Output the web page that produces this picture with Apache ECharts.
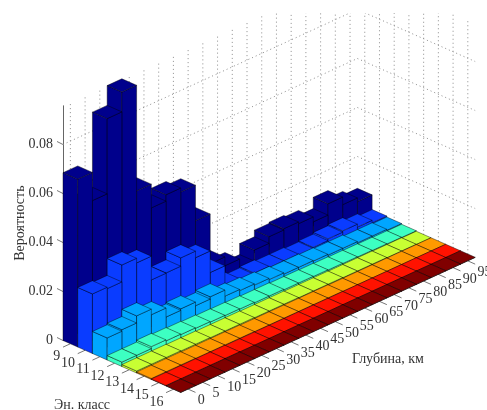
<!DOCTYPE html>
<html>
<head>
<meta charset="utf-8">
<script src="https://cdn.jsdelivr.net/npm/echarts@6/dist/echarts.min.js"></script>
<style>
html,body{margin:0;padding:0;background:#fff;overflow:hidden}
#c{width:487px;height:410px;filter:blur(0.7px)}
</style>
</head>
<body>
<div id="c"></div>
<script>
const energyLabels = ['9','10','11','12','13','14','15','16'];
const depthLabels = ['0','5','10','15','20','25','30','35','40','45','50','55','60','65','70','75','80','85','90','95'];
const yTicks = [0, 0.02, 0.04, 0.06, 0.08];
const prob9  = [.0685,.057,.0877,.0958,.0527,.043,.0456,.044,.0295,.0092,.0056,.002,.0065,.0092,.0097,.009,.007,.0116,.0085,.007];
const prob10 = [.0243,.0237,.0306,.0287,.019,.0191,.0225,.0198,.011,.003,.002,.0025,.002,.002,.0016,.002,.0027,.0032,.002,.001];
const prob11 = [.009,.0096,.0125,.0102,.0065,.0071,.0056,.0065,.004,.0035,.003,.0025,.002,.002,.0018,.0015,.0015,.001,.001,.0006];
const prob12 = [.0018,.0018,.0026,.0022,.002,.0018,.0016,.0015,.0014,.0012,.0012,.001,.001,.0009,.0008,.0007,.0006,.0005,.0004,.0003];
const prob13 = [.0008,.0008,.0008,.0007,.0007,.0006,.0006,.0006,.0005,.0005,.0005,.0004,.0004,.0004,.0003,.0003,.0003,.0002,.0002,.0001];
const prob14 = [.0004,.0004,.0004,.0003,.0003,.0003,.0003,.0002,.0002,.0002,.0002,.0002,.0002,.0001,.0001,.0001,.0001,.0001,.0001,.0001];
const prob15 = [.0002,.0002,.0002,.0002,.0002,.0001,.0001,.0001,.0001,.0001,.0001,.0001,.0001,.0001,.0001,.0001,.0001,.0001,.0001,.0001];
const prob16 = [.0001,.0001,.0001,.0001,.0001,.0001,.0001,.0001,.0001,.0001,.0001,.0001,.0001,.0001,.0001,.0001,.0001,.0001,.0001,.0001];
const rows = [prob9, prob10, prob11, prob12, prob13, prob14, prob15, prob16];

const rowColors = ['#00008c','#0a3cff','#00a6ff','#3dffc2','#c8ff33','#ff9900','#ff1200','#800000'];
const zMax = 0.0958;
const pxPerUnit = 2450;
const shearD = 6.75 / pxPerUnit, shearE = 6.5 / pxPerUnit;
const nE = energyLabels.length, nD = depthLabels.length;
const SERIF = '"Liberation Serif","Times New Roman",serif';

function P(api, e, d, z) { return api.coord([e + d, z + d * shearD - e * shearE]); }

function barItem(e) {
  return function (params, api) {
    const d = api.value(0), v = api.value(1);
    const style = { fill: rowColors[e], stroke: 'rgba(0,0,0,0.6)', lineWidth: 0.7, lineJoin: 'round' };
    const poly = pts => ({ type: 'polygon', shape: { points: pts }, style });
    const c = (ee, dd, z) => P(api, ee, dd, z);
    return {
      type: 'group',
      children: [
        poly([c(e, d, 0), c(e + 1, d, 0), c(e + 1, d, v), c(e, d, v)]),
        poly([c(e + 1, d, 0), c(e + 1, d + 1, 0), c(e + 1, d + 1, v), c(e + 1, d, v)]),
        poly([c(e, d, v), c(e + 1, d, v), c(e + 1, d + 1, v), c(e, d + 1, v)])
      ]
    };
  };
}

const dotted = { stroke: '#8c8c8c', lineWidth: 1, lineDash: [1, 3], fill: null };
function gridItem(params, api) {
  const kids = [];
  const seg = (a, b) => kids.push({ type: 'line', shape: { x1: a[0], y1: a[1], x2: b[0], y2: b[1] }, style: dotted });
  depthLabels.forEach((_, i) => seg(P(api, 0, i + .5, 0), P(api, 0, i + .5, zMax)));
  energyLabels.forEach((_, i) => seg(P(api, i + .5, nD, 0), P(api, i + .5, nD, zMax)));
  yTicks.forEach(t => {
    if (t === 0) return;
    seg(P(api, 0, 0, t), P(api, 0, nD, t));
    seg(P(api, 0, nD, t), P(api, nE, nD, t));
  });
  return { type: 'group', children: kids };
}

function tickItem(params, api) {
  const kids = [];
  const tickStyle = { stroke: '#777', lineWidth: 1, fill: null };
  const seg = (a, b) => kids.push({ type: 'line', shape: { x1: a[0], y1: a[1], x2: b[0], y2: b[1] }, style: tickStyle });
  const txt = (p, s, align, dx, dy) => kids.push({
    type: 'text', x: p[0] + dx, y: p[1] + dy,
    style: { text: s, textAlign: align, textVerticalAlign: 'middle', font: '14px ' + SERIF, fill: '#333' }
  });
  energyLabels.forEach((s, i) => {
    seg(P(api, i + .5, 0, 0), P(api, i + .5, -.5, 0));
    txt(P(api, i + .5, 0, 0), s, 'right', -10, 13);
  });
  depthLabels.forEach((s, i) => {
    seg(P(api, nE, i + .5, 0), P(api, nE + .5, i + .5, 0));
    txt(P(api, nE, i + .5, 0), s, 'left', 9.7, 11.3);
  });
  yTicks.forEach(t => {
    const a = P(api, 0, 0, t);
    seg(a, [a[0] - 6, a[1] - 3]);
  });
  return { type: 'group', children: kids };
}

const series = [
  { type: 'custom', name: 'grid', silent: true, renderItem: gridItem, data: [[0, 0]], clip: false, animation: false },
  { type: 'custom', name: 'ticks', silent: true, renderItem: tickItem, data: [[0, 0]], clip: false, animation: false }
];
rows.forEach((vals, e) => {
  const data = vals.map((v, d) => [d, v]).reverse();
  series.push({ type: 'custom', name: energyLabels[e], silent: true, renderItem: barItem(e), data, clip: false, animation: false, encode: { x: 0, y: 1 } });
});

const chart = echarts.init(document.getElementById('c'), null, { renderer: 'canvas' });
chart.setOption({
  backgroundColor: '#fff',
  animation: false,
  tooltip: { show: false },
  grid: { left: 63, top: 340.5 - zMax * pxPerUnit, width: 28 * 14.72, height: zMax * pxPerUnit, outerBoundsMode: 'none', containLabel: false },
  xAxis: { type: 'value', min: 0, max: nE + nD, show: false },
  yAxis: {
    type: 'value', min: 0, max: zMax, interval: 0.02,
    name: 'Вероятность', nameLocation: 'middle', nameGap: 36, nameRotate: 90,
    nameMoveOverlap: false,
    nameTextStyle: { fontFamily: SERIF, fontSize: 14, color: '#333' },
    axisLine: { show: true, lineStyle: { color: '#666', width: 1 } },
    axisTick: { show: false },
    splitLine: { show: false },
    axisLabel: {
      showMaxLabel: false, margin: 10, fontFamily: SERIF, fontSize: 14, color: '#333',
      padding: [0, 0, 6, 0],
      formatter: v => String(+v.toFixed(2))
    }
  },
  series,
  graphic: [
    { type: 'rect', z: 100, shape: { x: 0, y: 0, width: 487, height: 13 }, style: { fill: '#fff' } },
    { type: 'text', z: 100, x: 82, y: 405, style: { text: 'Эн. класс', textAlign: 'center', textVerticalAlign: 'middle', font: '14px ' + SERIF, fill: '#333' } },
    { type: 'text', z: 100, x: 388, y: 359, style: { text: 'Глубина, км', textAlign: 'center', textVerticalAlign: 'middle', font: '14px ' + SERIF, fill: '#333' } }
  ]
});
</script>
</body>
</html>
